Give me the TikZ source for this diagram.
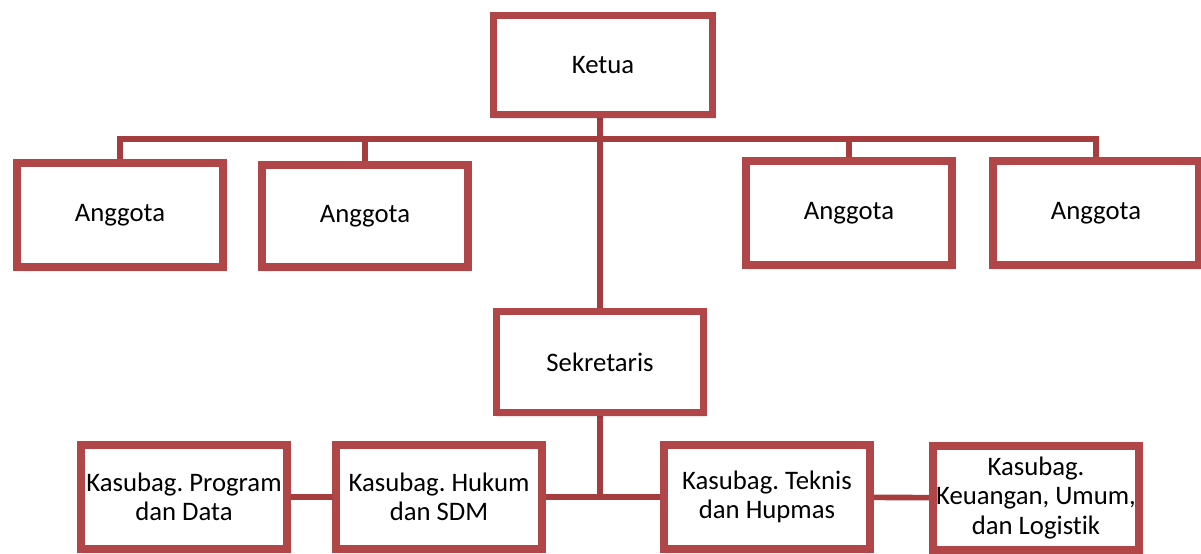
\documentclass[tikz,border=0pt]{standalone}
\usepackage{fontspec}
\setmainfont{Carlito}[Ligatures=NoCommon]
\frenchspacing
\usepackage{tikz}
\usetikzlibrary{
    positioning,
    shadows,
    shadows.blur,
    backgrounds
}
\definecolor{orgRed}{RGB}{176, 70, 72}
\definecolor{orgLine}{RGB}{165, 60, 62}

\begin{document}
\begin{tikzpicture}[x=0.025cm, y=-0.025cm,
        orgbox/.style={draw=orgRed, line width=0.19cm, fill=white, rectangle,
            minimum width=5.15cm, minimum height=2.6cm, inner sep=1pt,
            align=center, font=\fontsize{19}{21}\selectfont,
            blur shadow={shadow xshift=0.8pt, shadow yshift=-1.8pt, shadow blur steps=6, shadow opacity=40}},
        link/.style={draw=orgLine, line width=0.14cm}]
            \useasboundingbox (0,0) rectangle (1201,553);
            \coordinate (bus) at (600,139); % horizontal line under Ketua
            
            \node[orgbox, minimum width=5.475cm, minimum height=2.475cm] (ketua) at (603,65) {Ketua};
            \node[orgbox, minimum width=5.175cm, minimum height=2.525cm] (sek) at (600,362) {Sekretaris};
            \node[orgbox] (ang1) at (120,215) {Anggota};
            \node[orgbox, minimum height=2.55cm] (ang2) at (365,216) {Anggota};
            \node[orgbox] (ang3) at (849,213) {Anggota};
            \node[orgbox] (ang4) at (1096,213) {Anggota};
            
            \node[orgbox] (prog) at (184,497) {Kasubag. Program\\dan Data};
            \node[orgbox] (hukum) at (439,497) {Kasubag. Hukum\\dan SDM};
            \node[orgbox] (teknis) at (767,497) {Kasubag. Teknis\\dan Hupmas};
            \node[orgbox, inner sep=0pt] (keu) at (1036,498) {Kasubag.\\Keuangan, Umum,\\dan Logistik};
            
            % lines go behind the boxes
            \begin{scope}[on background layer]
            \draw[link] (ang1.north) |- (bus) -| (ang4.north);
            \draw[link] (ang2.north) -- (ang2.north |- bus);
            \draw[link] (ang3.north) -- (ang3.north |- bus);
            \draw[link] (sek.north) -- (sek.north |- ketua.south);
            \draw[link] (sek.south) |- (hukum.east);
            \draw[link] (sek.south) |- (teknis.west);
            \draw[link] (prog) -- (hukum);
            \draw[link] (teknis) -- (keu);
            \end{scope}
        \end{tikzpicture}
\end{document}
